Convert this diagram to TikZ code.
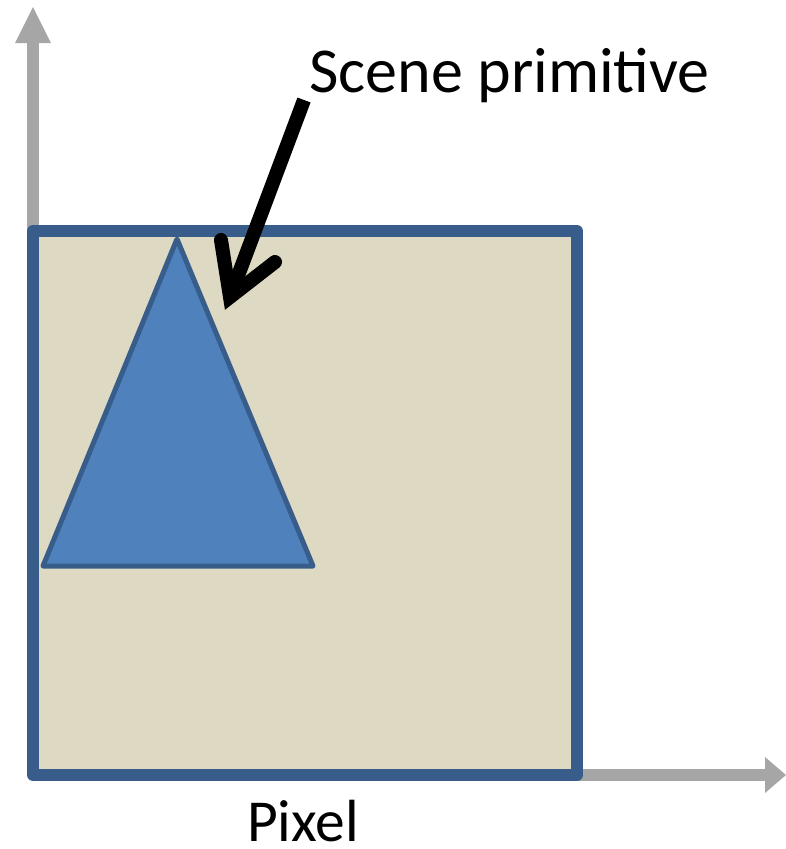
\documentclass[tikz,border=0pt]{standalone}
\usepackage{fontspec}
\setmainfont{Carlito}
\definecolor{axisgray}{HTML}{A6A6A6}
\definecolor{boxblue}{HTML}{385D8A}
\definecolor{pixbeige}{HTML}{DDD9C3}
\definecolor{primblue}{HTML}{4F81BD}
\tikzset{
  axisshaft/.style={draw=axisgray, line width=12pt},
  axishead/.style={fill=axisgray, draw=none},
  pixelbox/.style={draw=boxblue, fill=pixbeige, line width=12pt, line join=round},
  primitive/.style={draw=boxblue, fill=primblue, line width=5pt, line join=round},
  pointer/.style={draw=black, line width=14pt},
  lbl/.style={inner sep=0pt, anchor=base west, text=black}
}
\begin{document}
\begin{tikzpicture}[x=1pt,y=-1pt]
\useasboundingbox (0,0) rectangle (786,849);
% axes
\coordinate (origin) at (33,775);
\coordinate (ytip) at (33,7);
\coordinate (xtip) at (786,775);
\draw[axisshaft] (origin) -- (33,40);
\draw[axisshaft] (origin) -- (768,775);
\fill[axishead] (ytip) -- (51,43) -- (15,43) -- cycle;
\fill[axishead] (xtip) -- (765,757) -- (765,793) -- cycle;
% pixel
\draw[pixelbox] (33,231) rectangle (577,775);
% primitive
\draw[primitive] (177,239) -- (313,566) -- (43,566) -- cycle;
% pointer arrow
\coordinate (pstart) at (304,100);
\coordinate (pvert) at (230,297);
\coordinate (barbL) at (221,240);
\coordinate (barbR) at (275,262);
\draw[pointer, line cap=butt] (pstart) -- (pvert);
\draw[pointer, line cap=round, line join=miter] (barbL) -- (pvert) -- (barbR);
% labels
\node[lbl, font=\fontsize{64}{70}\selectfont] (scene) at (309,92) {Scene primitive};
\node[lbl, font=\fontsize{59.5}{64}\selectfont] (pixel) at (247,841) {Pixel};
\end{tikzpicture}
\end{document}
